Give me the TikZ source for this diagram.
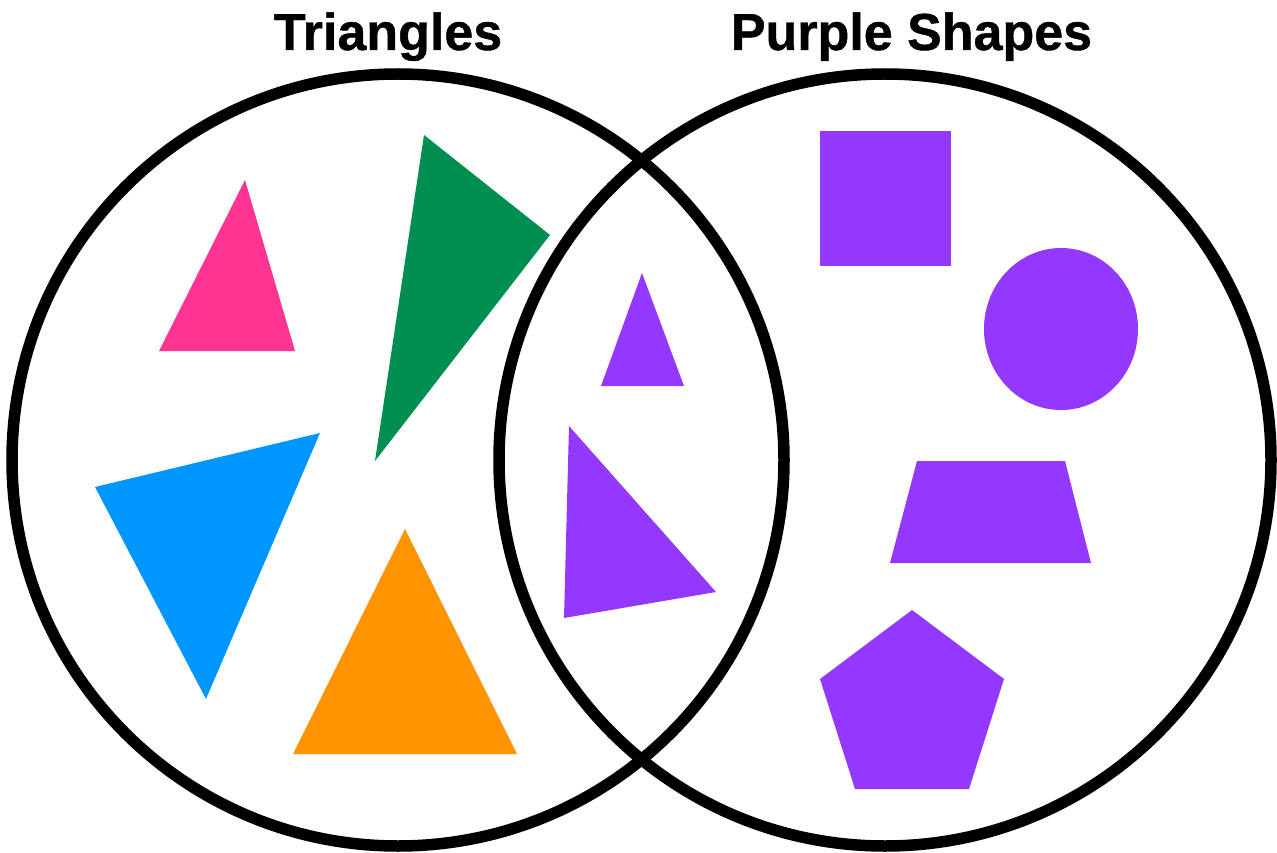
\documentclass[tikz,border=0pt]{standalone}
\usepackage{fontspec}
\setmainfont{Liberation Sans}
\newfontfamily\titlefont[FakeBold=0.8]{Liberation Sans Bold}
\begin{document}
\begin{tikzpicture}[x=1pt,y=-1pt,
  ring/.style={draw=black,line width=11.5pt},
  title/.style={font=\titlefont\fontsize{52}{60}\selectfont,anchor=base,inner sep=0pt}]
\useasboundingbox (0,0) rectangle (1277,853);
\definecolor{pinkc}{RGB}{255,51,144}
\definecolor{greenc}{RGB}{0,143,81}
\definecolor{bluec}{RGB}{0,150,255}
\definecolor{orangec}{RGB}{255,147,0}
\definecolor{purplec}{RGB}{148,55,255}
% shapes
\fill[pinkc] (245,180) -- (159,351) -- (295,351) -- cycle;
\fill[greenc] (424,135) -- (550,235) -- (375,461) -- cycle;
\fill[bluec] (95,487) -- (320,433) -- (206,699) -- cycle;
\fill[orangec] (405,529) -- (293,754) -- (517,754) -- cycle;
\fill[purplec] (642,273) -- (601,386) -- (684,386) -- cycle;
\fill[purplec] (569,426) -- (716,592) -- (564,618) -- cycle;
\fill[purplec] (820,131) rectangle (951,266);
\fill[purplec] (1061,329) ellipse [x radius=77, y radius=81];
\fill[purplec] (917,461) -- (1065,461) -- (1091,563) -- (890,563) -- cycle;
\fill[purplec] (912,610) -- (1004,679) -- (969,789) -- (855,789) -- (820,679) -- cycle;
% circles
\draw[ring] (398,460) circle [radius=386];
\draw[ring] (885,460) circle [radius=386];
% titles
\node[title] (t1) at (388,50) {Triangles};
\node[title] (t2) at (911.5,50) {Purple Shapes};
\end{tikzpicture}
\end{document}
